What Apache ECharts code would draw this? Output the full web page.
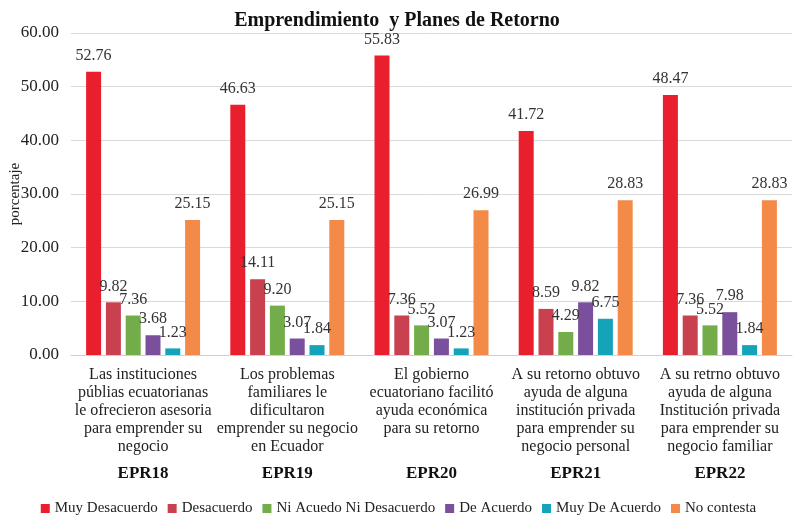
<!DOCTYPE html>
<html>
<head>
  <meta charset="utf-8">
  <title>Emprendimiento y Planes de Retorno</title>
  <style type="text/css">
    html, body { margin: 0; padding: 0; background: #fff; }
    #main { width: 797px; height: 516px; }
  </style>
</head>
<body>
<div id="main"></div>
<script type="text/javascript" src="https://cdn.jsdelivr.net/npm/echarts@6/dist/echarts.min.js"></script>
<script type="text/javascript">
  var codes = ['EPR18', 'EPR19', 'EPR20', 'EPR21', 'EPR22'];
  var questions = [
    'Las instituciones\npúblias ecuatorianas\nle ofrecieron asesoria\npara emprender su\nnegocio',
    'Los problemas\nfamiliares le\ndificultaron\nemprender su negocio\nen Ecuador',
    'El gobierno\necuatoriano facilitó\nayuda económica\npara su retorno\n ',
    'A su retorno obtuvo\nayuda de alguna\ninstitución privada\npara emprender su\nnegocio personal',
    'A su retrno obtuvo\nayuda de alguna\nInstitución privada\npara emprender su\nnegocio familiar'
  ];
  var seriesNames = ['Muy Desacuerdo', 'Desacuerdo', 'Ni Acuedo Ni Desacuerdo', 'De Acuerdo', 'Muy De Acuerdo', 'No contesta'];
  var muyDesacuerdo = [52.76, 46.63, 55.83, 41.72, 48.47];
  var desacuerdo = [9.82, 14.11, 7.36, 8.59, 7.36];
  var niAcuedo = [7.36, 9.20, 5.52, 4.29, 5.52];
  var deAcuerdo = [3.68, 3.07, 3.07, 9.82, 7.98];
  var muyDeAcuerdo = [1.23, 1.84, 1.23, 6.75, 1.84];
  var noContesta = [25.15, 25.15, 26.99, 28.83, 28.83];
  var colors = ['#ea1f2e', '#c9404f', '#72ad4a', '#7a4f9c', '#14a3b8', '#f48a47'];

  var serif = '"Liberation Serif", "DejaVu Serif", serif';
  var allData = [muyDesacuerdo, desacuerdo, niAcuedo, deAcuerdo, muyDeAcuerdo, noContesta];

  var series = allData.map(function (d, i) {
    return {
      name: seriesNames[i],
      type: 'bar',
      data: d,
      barWidth: 15,
      barGap: '32%',
      itemStyle: { color: colors[i] },
      label: {
        show: true,
        position: 'top',
        distance: 8,
        color: '#333',
        fontFamily: serif,
        fontSize: 16,
        formatter: function (p) { return p.value.toFixed(2); }
      }
    };
  });

  var myChart = echarts.init(document.getElementById('main'));
  var option = {
    backgroundColor: '#fff',
    animation: false,
    color: colors,
    title: {
      text: 'Emprendimiento  y Planes de Retorno',
      left: 392,
      textAlign: 'center',
      top: 6,
      textStyle: { fontFamily: serif, fontSize: 20, fontWeight: 'bold', color: '#111' }
    },
    legend: {
      top: 496,
      left: 'center',
      itemWidth: 9,
      itemHeight: 9,
      itemGap: 10,
      icon: 'rect',
      textStyle: { fontFamily: serif, fontSize: 15, color: '#222' },
      data: seriesNames
    },
    grid: { left: 71, right: 5, top: 33, bottom: 161, outerBoundsMode: 'none', containLabel: false },
    xAxis: {
      type: 'category',
      data: codes,
      axisTick: { show: false },
      axisLine: { lineStyle: { color: '#d0d0d0' } },
      axisLabel: {
        interval: 0,
        margin: 11,
        formatter: function (v, idx) {
          return '{q|' + questions[idx] + '}\n{c|' + v + '}';
        },
        rich: {
          q: { fontFamily: serif, fontSize: 16, lineHeight: 18, color: '#222', align: 'center' },
          c: { fontFamily: serif, fontSize: 17, fontWeight: 'bold', lineHeight: 26, color: '#111', verticalAlign: 'bottom' }
        }
      }
    },
    yAxis: {
      type: 'value',
      min: 0,
      max: 60,
      interval: 10,
      name: 'porcentaje',
      nameLocation: 'middle',
      nameGap: 48,
      nameMoveOverlap: false,
      nameTextStyle: { fontFamily: serif, fontSize: 15, color: '#222' },
      axisLabel: {
        fontFamily: serif,
        fontSize: 17,
        color: '#222',
        margin: 12,
        formatter: function (v) { return v.toFixed(2); }
      },
      splitLine: { lineStyle: { color: '#d9d9d9' } }
    },
    series: series
  };
  myChart.setOption(option);
</script>
</body>
</html>
